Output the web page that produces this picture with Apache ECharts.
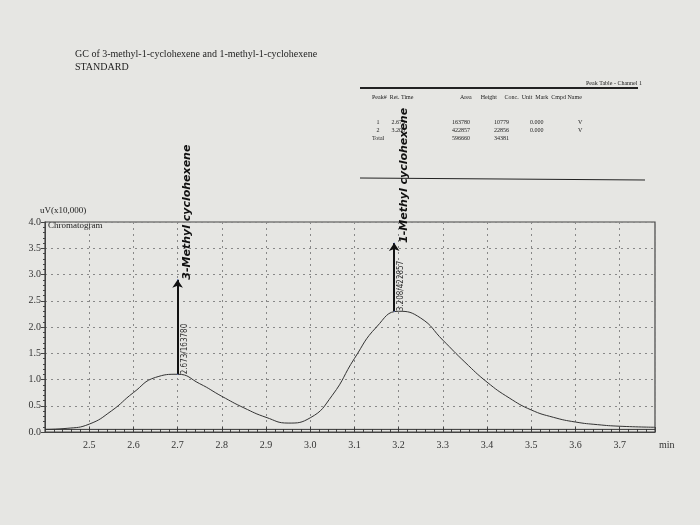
<!DOCTYPE html>
<html>
<head>
<meta charset="UTF-8">
<title>GC</title>
<script src="https://cdn.jsdelivr.net/npm/echarts@6/dist/echarts.min.js"></script>
</head>
<body style="margin:0;background:#e6e6e3">
<div id="main" style="width:700px;height:525px;"></div>
<script type="text/javascript">
// retention time (min) and signal (uV x10,000)
var times = [2.40, 2.45, 2.50, 2.55, 2.60, 2.65, 2.70, 2.75, 2.80, 2.85, 2.90, 2.95, 3.00, 3.05, 3.10, 3.15, 3.20, 3.25, 3.30, 3.35, 3.40, 3.45, 3.50, 3.55, 3.60, 3.65, 3.70, 3.78];
var signal = [0.05, 0.07, 0.15, 0.40, 0.75, 1.04, 1.10, 0.92, 0.68, 0.46, 0.28, 0.17, 0.27, 0.70, 1.40, 2.00, 2.30, 2.17, 1.75, 1.33, 0.95, 0.65, 0.42, 0.28, 0.19, 0.14, 0.11, 0.09];
var yTicks = ['0.0', '0.5', '1.0', '1.5', '2.0', '2.5', '3.0', '3.5', '4.0'];
var peaks = [
  {rt: 2.673, x: 2.70, area: 163780, top: 1.10, arrow: 1.8, note: '3-Methyl cyclohexene'},
  {rt: 3.208, x: 3.19, area: 422857, top: 2.30, arrow: 1.3, note: '1-Methyl cyclohexene'}
];

var pts = times.map(function (t, i) { return [t, signal[i]]; });
var font = 'Liberation Serif';

var myChart = echarts.init(document.getElementById('main'));
var option = {
  backgroundColor: '#e6e6e3',
  grid: { left: 45, right: 45, top: 222, bottom: 93 },
  xAxis: {
    type: 'value', min: 2.4, max: 3.78, interval: 0.1,
    axisLine: { onZero: false, lineStyle: { color: '#444' } },
    axisTick: { inside: true, length: 5, lineStyle: { color: '#444' } },
    minorTick: { show: true, splitNumber: 5, length: 3, lineStyle: { color: '#444' } },
    axisLabel: { color: '#333', fontFamily: font, fontSize: 10,
      formatter: function (v) { return (v < 2.45 || v > 3.75) ? '' : v.toFixed(1); } },
    splitLine: { show: true, lineStyle: { color: '#888', type: [2, 4] } },
    name: 'min', nameLocation: 'end', nameGap: 4,
    nameTextStyle: { color: '#333', fontFamily: font, fontSize: 10, verticalAlign: 'top', padding: [8, 0, 0, 0] }
  },
  yAxis: {
    type: 'value', min: 0, max: 4, interval: 0.5,
    axisLine: { lineStyle: { color: '#444' } },
    axisTick: { length: 4, lineStyle: { color: '#444' } },
    minorTick: { show: true, splitNumber: 5, length: 2, lineStyle: { color: '#444' } },
    axisLabel: { color: '#333', fontFamily: font, fontSize: 10, margin: 4,
      formatter: function (v, i) { return yTicks[i]; } },
    splitLine: { show: true, lineStyle: { color: '#888', type: [2, 4] } }
  },
  graphic: [
    { type: 'rect', shape: { x: 45, y: 222, width: 610, height: 210 }, style: { fill: 'none', stroke: '#444', lineWidth: 1.2 } },
    { type: 'text', left: 75, top: 48, style: { text: 'GC of 3-methyl-1-cyclohexene and 1-methyl-1-cyclohexene\nSTANDARD', font: '10px ' + font, fill: '#222', lineHeight: 13 } },
    { type: 'text', left: 40, top: 206, style: { text: 'uV(x10,000)', font: '9px ' + font, fill: '#222' } },
    { type: 'text', left: 48, top: 221, style: { text: 'Chromatogram', font: '9px ' + font, fill: '#222' } },
    { type: 'line', shape: { x1: 360, y1: 88, x2: 638, y2: 88 }, style: { stroke: '#222', lineWidth: 2 } },
    { type: 'line', shape: { x1: 360, y1: 178, x2: 645, y2: 180 }, style: { stroke: '#222', lineWidth: 1 } },
    { type: 'text', left: 586, top: 80, style: { text: 'Peak Table - Channel 1', font: '6px ' + font, fill: '#222' } },
    { type: 'text', left: 372, top: 94, style: { text: 'Peak#  Ret. Time', font: '6px ' + font, fill: '#222' } },
    { type: 'text', left: 460, top: 94, style: { text: 'Area      Height     Conc.  Unit  Mark  Cmpd Name', font: '6px ' + font, fill: '#222' } },
    { type: 'text', left: 372, top: 118, style: { text: '   1        2.673\n   2        3.208\nTotal', font: '6px ' + font, fill: '#222', lineHeight: 8 } },
    { type: 'text', left: 452, top: 118, style: { text: '163780\n422857\n596660', font: '6px ' + font, fill: '#222', lineHeight: 8 } },
    { type: 'text', left: 494, top: 118, style: { text: '10779\n22856\n34381', font: '6px ' + font, fill: '#222', lineHeight: 8 } },
    { type: 'text', left: 530, top: 118, style: { text: '0.000\n0.000', font: '6px ' + font, fill: '#222', lineHeight: 8 } },
    { type: 'text', left: 578, top: 118, style: { text: 'V\nV', font: '6px ' + font, fill: '#222', lineHeight: 8 } }
  ],
  series: [{
    type: 'line', data: pts, smooth: 0.5, symbol: 'none',
    lineStyle: { color: '#333', width: 1 },
    markLine: {
      silent: true, symbol: ['none', 'arrow'], symbolSize: 8,
      lineStyle: { color: '#111', width: 2, type: 'solid' },
      label: { show: false },
      data: peaks.map(function (p) { return [{ coord: [p.x, p.top] }, { coord: [p.x, p.top + p.arrow] }]; })
    },
    markPoint: {
      symbol: 'circle', symbolSize: 1, silent: true,
      data: peaks.map(function (p) {
        return { coord: [p.x, p.top], label: { show: true, rotate: 90, position: 'inside', align: 'left', offset: [0, 7],
          formatter: p.rt.toFixed(3) + '/' + p.area, color: '#333', fontSize: 8, fontFamily: 'DejaVu Sans Condensed' } };
      }).concat(peaks.map(function (p) {
        return { coord: [p.x, p.top + p.arrow], label: { show: true, rotate: 90, position: 'inside', align: 'left', offset: [0, 10],
          formatter: p.note, color: '#111', fontSize: 11, fontStyle: 'italic', fontWeight: 'bold', fontFamily: 'DejaVu Sans' } };
      }))
    }
  }, {
    type: 'line', data: [[2.4, 0.05], [3.78, 0.05]], symbol: 'none', silent: true,
    lineStyle: { color: '#333', width: 1 }
  }]
};
myChart.setOption(option);
</script>
</body>
</html>
